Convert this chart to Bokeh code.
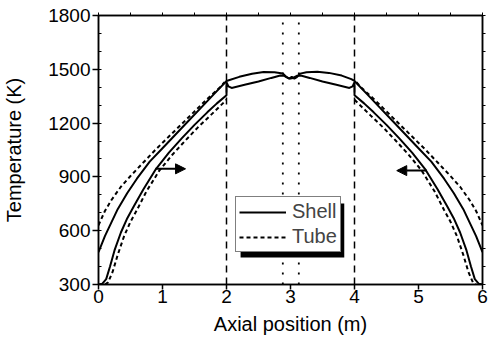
from bokeh.plotting import figure
from bokeh.models import (FixedTicker, LinearAxis, Legend, LegendItem, BoxAnnotation,
                          Arrow, NormalHead, Range1d, CustomLabelingPolicy)
from bokeh.embed import file_html
from bokeh.resources import INLINE

FONT = "Liberation Sans"

# ---------------- data ----------------
x_ticks = [0, 1, 2, 3, 4, 5, 6]
y_ticks = [300, 600, 900, 1200, 1500, 1800]
y_minor = [300, 400, 500, 600, 700, 800, 900, 1000, 1100, 1200, 1300, 1400, 1500, 1600, 1700, 1800]
top_ticks = [0, 0.5, 1, 1.5, 2, 2.5, 3, 3.5, 4, 4.5, 5, 5.5, 6]

# Shell, outer path (solid)
shell_a_x = [0, 0.1, 0.2, 0.3, 0.45, 0.6, 0.8, 1.0, 1.2, 1.4, 1.6, 1.8, 2.0,
             2.2, 2.4, 2.58, 2.75, 2.88, 2.94, 2.98, 3.02, 3.06, 3.1, 3.15, 3.25, 3.42, 3.6, 3.8, 3.95, 4.0,
             4.2, 4.4, 4.6, 4.8, 5.0, 5.2, 5.4, 5.55, 5.7, 5.8, 5.9, 6.0]
shell_a_t = [480, 570, 645, 720, 810, 890, 985, 1060, 1135, 1210, 1285, 1360, 1435,
             1458, 1475, 1485, 1484, 1476, 1456, 1448, 1458, 1448, 1456, 1476, 1484, 1486, 1480, 1465, 1445, 1435,
             1360, 1285, 1210, 1135, 1060, 985, 890, 810, 720, 645, 570, 480]

# Shell, inner path (solid)
shell_b_x = [0, 0.06, 0.12, 0.18, 0.25, 0.35, 0.45, 0.55, 0.7, 0.9, 1.1, 1.3, 1.5, 1.7, 1.85, 2.0,
             2.0, 2.03, 2.08,
             2.3, 2.5, 2.7, 2.84, 2.9, 2.96, 3.0, 3.04, 3.1, 3.16, 3.3, 3.5, 3.7,
             3.92, 3.97, 4.0, 4.0,
             4.15, 4.3, 4.5, 4.7, 4.9, 5.1, 5.3, 5.45, 5.55, 5.65, 5.75, 5.82, 5.88, 5.94, 6.0]
shell_b_t = [300, 305, 330, 400, 490, 590, 670, 735, 830, 945, 1035, 1115, 1190, 1260, 1310, 1355,
             1428, 1405, 1396,
             1415, 1432, 1452, 1465, 1464, 1452, 1449, 1452, 1464, 1465, 1452, 1432, 1415,
             1396, 1405, 1428, 1355,
             1310, 1260, 1190, 1115, 1035, 945, 830, 735, 670, 590, 490, 400, 330, 305, 300]

# Tube (dashed), four pieces
tube_lu_x = [0, 0.1, 0.2, 0.35, 0.5, 0.7, 0.9, 1.1, 1.3, 1.5, 1.7, 1.9, 1.97]
tube_lu_t = [630, 710, 770, 845, 905, 980, 1055, 1125, 1195, 1265, 1335, 1400, 1428]
tube_ll_x = [0.1, 0.15, 0.22, 0.3, 0.4, 0.5, 0.6, 0.75, 0.95, 1.15, 1.35, 1.55, 1.75, 1.9, 2.0]
tube_ll_t = [300, 312, 370, 465, 570, 650, 715, 820, 935, 1022, 1100, 1175, 1243, 1295, 1330]
tube_ru_x = [4.03, 4.1, 4.3, 4.5, 4.7, 4.9, 5.1, 5.3, 5.5, 5.65, 5.8, 5.9, 6.0]
tube_ru_t = [1428, 1400, 1335, 1265, 1195, 1125, 1055, 980, 905, 845, 770, 710, 630]
tube_rl_x = [4.0, 4.1, 4.25, 4.45, 4.65, 4.85, 5.05, 5.25, 5.4, 5.5, 5.6, 5.7, 5.78, 5.85, 5.9]
tube_rl_t = [1330, 1295, 1243, 1175, 1100, 1022, 935, 820, 715, 650, 570, 465, 370, 312, 300]

zone_bounds = [2.0, 4.0]       # dashed vertical lines
burner_bounds = [2.88, 3.13]   # dotted vertical lines

# ---------------- figure ----------------
p = figure(width=488, height=342, x_range=Range1d(0, 6), y_range=Range1d(300, 1800),
           output_backend="svg", toolbar_location=None,
           min_border_left=98, min_border_right=6, min_border_top=15, min_border_bottom=58)
p.xgrid.visible = False
p.ygrid.visible = False
p.outline_line_color = "black"
p.outline_line_width = 1.5
p.background_fill_color = "white"
p.border_fill_color = "white"

# vertical reference lines
p.segment(x0=zone_bounds, x1=zone_bounds, y0=[300] * len(zone_bounds), y1=[1800] * len(zone_bounds),
          line_color="black", line_width=1.5, line_dash="7 5")
p.segment(x0=burner_bounds, x1=burner_bounds, y0=[300] * len(burner_bounds), y1=[1800] * len(burner_bounds),
          line_color="black", line_width=1.8, line_dash="2 8")

# legend shadow
shadow = BoxAnnotation(left=2.22, right=3.84, top=752, bottom=450,
                       fill_color="black", fill_alpha=1, line_color=None, level="underlay")
p.add_layout(shadow)

r_s1 = p.line(shell_a_x, shell_a_t, line_color="black", line_width=2)
r_s2 = p.line(shell_b_x, shell_b_t, line_color="black", line_width=2)
r_t1 = p.line(tube_lu_x, tube_lu_t, line_color="black", line_width=2, line_dash="4 3")
p.line(tube_ll_x, tube_ll_t, line_color="black", line_width=2, line_dash="4 3")
p.line(tube_ru_x, tube_ru_t, line_color="black", line_width=2, line_dash="4 3")
p.line(tube_rl_x, tube_rl_t, line_color="black", line_width=2, line_dash="4 3")

# flow arrows
p.add_layout(Arrow(end=NormalHead(size=10, fill_color="black", line_color="black"),
                   x_start=0.89, y_start=945, x_end=1.36, y_end=945,
                   line_color="black", line_width=2))
p.add_layout(Arrow(end=NormalHead(size=10, fill_color="black", line_color="black"),
                   x_start=5.13, y_start=935, x_end=4.66, y_end=935,
                   line_color="black", line_width=2))

# axes
xa = p.xaxis[0]
xa.ticker = FixedTicker(ticks=x_ticks, minor_ticks=[])
xa.major_tick_out = 5
xa.major_tick_in = 0
xa.minor_tick_line_color = None
xa.major_label_standoff = 0
xa.axis_label = "Axial position (m)"
xa.axis_label_standoff = 7
ya = p.yaxis[0]
ya.ticker = FixedTicker(ticks=y_ticks, minor_ticks=y_minor)
ya.major_tick_out = 6
ya.major_tick_in = 0
ya.minor_tick_in = 3
ya.minor_tick_out = 0
ya.major_label_standoff = 2
ya.axis_label = "Temperature (K)"
ya.axis_label_standoff = 20
for ax in (xa, ya):
    ax.axis_line_width = 1.5
    ax.major_tick_line_width = 1.5
    ax.minor_tick_line_width = 1
    ax.major_label_text_font = FONT
    ax.major_label_text_font_size = "19px"
    ax.major_label_text_color = "black"
    ax.axis_line_color = "black"
    ax.axis_label_text_font = FONT
    ax.axis_label_text_font_size = "20px"
    ax.axis_label_text_font_style = "normal"
    ax.axis_label_text_color = "black"

no_labels = CustomLabelingPolicy(code="return []")
top_ax = LinearAxis(ticker=FixedTicker(ticks=top_ticks, minor_ticks=[]),
                    major_label_policy=no_labels, major_label_standoff=0,
                    major_label_text_font_size="0px",
                    major_tick_in=0, major_tick_out=3, minor_tick_line_color=None,
                    axis_line_width=1.5, major_tick_line_width=1)
p.add_layout(top_ax, "above")
right_ax = LinearAxis(ticker=FixedTicker(ticks=y_minor, minor_ticks=[]),
                      major_label_policy=no_labels, major_label_standoff=0,
                      major_label_text_font_size="0px",
                      major_tick_in=0, major_tick_out=3, minor_tick_line_color=None,
                      axis_line_width=1.5, major_tick_line_width=1)
p.add_layout(right_ax, "right")

legend = Legend(items=[LegendItem(label="Shell", renderers=[r_s1]),
                       LegendItem(label="Tube", renderers=[r_t1])],
                location=(137, 32), border_line_color="black", border_line_width=1.5,
                background_fill_color="white", background_fill_alpha=1,
                label_text_font=FONT, label_text_font_size="20px",
                glyph_width=47, glyph_height=20, label_height=20, label_standoff=6,
                padding=3, spacing=2, margin=0)
p.add_layout(legend)

open("out.html", "w").write(file_html(p, INLINE))
